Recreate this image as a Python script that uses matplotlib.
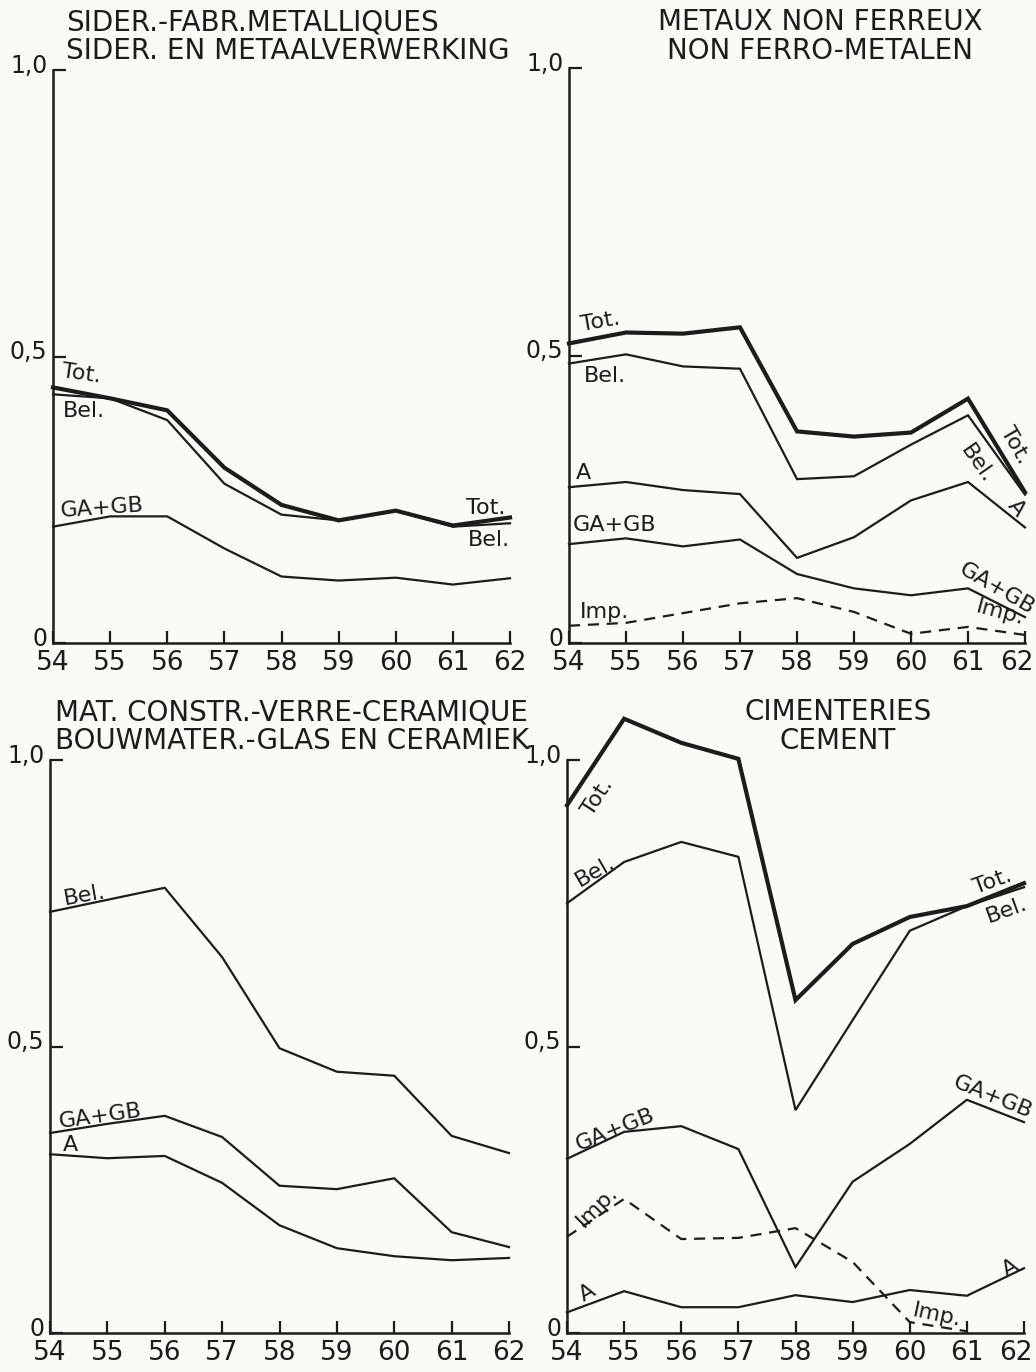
import numpy as np
import matplotlib
matplotlib.use("Agg")
import matplotlib.pyplot as plt
from matplotlib.transforms import ScaledTranslation

# years on the x axis (1954 - 1962)
years = [54, 55, 56, 57, 58, 59, 60, 61, 62]
year_labels = ["54", "55", "56", "57", "58", "59", "60", "61", "62"]
y_ticks = [0, 0.5, 1.0]
y_tick_labels = ["0", "0,5", "1,0"]

# Sider. - fabr. metalliques
sider_tot = [0.446, 0.427, 0.406, 0.306, 0.241, 0.214, 0.231, 0.205, 0.219]
sider_bel = [0.434, 0.427, 0.389, 0.278, 0.224, 0.214, 0.231, 0.203, 0.209]
sider_ga_gb = [0.203, 0.221, 0.221, 0.165, 0.116, 0.109, 0.114, 0.102, 0.113]

# Metaux non ferreux
nonfer_tot = [0.521, 0.540, 0.538, 0.549, 0.368, 0.359, 0.366, 0.425, 0.262]
nonfer_bel = [0.486, 0.502, 0.481, 0.477, 0.285, 0.290, 0.345, 0.396, 0.258]
nonfer_a = [0.271, 0.280, 0.266, 0.259, 0.148, 0.184, 0.248, 0.280, 0.201]
nonfer_ga_gb = [0.172, 0.182, 0.168, 0.180, 0.120, 0.095, 0.083, 0.095, 0.045]
nonfer_imp = [0.030, 0.035, 0.052, 0.069, 0.078, 0.054, 0.016, 0.028, 0.014]

# Mat. constr. - verre - ceramique
constr_bel = [0.735, 0.756, 0.777, 0.656, 0.497, 0.456, 0.449, 0.344, 0.314]
constr_ga_gb = [0.349, 0.365, 0.379, 0.342, 0.257, 0.251, 0.270, 0.176, 0.150]
constr_a = [0.312, 0.305, 0.309, 0.262, 0.188, 0.148, 0.134, 0.127, 0.131]

# Cimenteries
ciment_tot = [0.921, 1.072, 1.030, 1.002, 0.581, 0.679, 0.726, 0.745, 0.785]
ciment_bel = [0.750, 0.822, 0.857, 0.831, 0.389, 0.546, 0.702, 0.745, 0.778]
ciment_ga_gb = [0.304, 0.351, 0.361, 0.321, 0.115, 0.264, 0.330, 0.407, 0.368]
ciment_imp = [0.168, 0.234, 0.164, 0.166, 0.183, 0.124, 0.019, 0.003, np.nan]
ciment_a = [0.036, 0.073, 0.045, 0.045, 0.066, 0.054, 0.075, 0.065, 0.113]

INK = "#1c1c1c"
PAPER = "#fbfaf5"
W, H = 1036, 1372

plt.rcParams["font.family"] = ["DejaVu Sans"]

fig = plt.figure(figsize=(W / 100, H / 100), dpi=100, facecolor=PAPER)


def make_axes(x0, x1, y_zero, y_one, last_shift=0):
    # axes box given in pixels: x of 54 and 62, y of 0 and 1,0
    ax = fig.add_axes([x0 / W, (H - y_zero) / H, (x1 - x0) / W, (y_zero - y_one) / H])
    ax.set_facecolor("none")
    ax.set_xlim(54, 62)
    ax.set_ylim(0, 1)
    for side in ("top", "right"):
        ax.spines[side].set_visible(False)
    for side in ("left", "bottom"):
        ax.spines[side].set_linewidth(1.8)
        ax.spines[side].set_color(INK)
    ax.set_xticks(years)
    ax.set_xticklabels(year_labels, fontsize=19, color=INK)
    ax.set_yticks(y_ticks)
    ax.set_yticklabels(y_tick_labels, fontsize=17, color=INK)
    ax.tick_params(axis="x", direction="in", length=9, width=1.6, color=INK, pad=5)
    ax.tick_params(axis="y", direction="in", length=9, width=1.6, color=INK, pad=4)
    # number labels sit a little above their tick
    shift = ScaledTranslation(0, 5 / 72, fig.dpi_scale_trans)
    for lab in ax.get_yticklabels():
        lab.set_transform(lab.get_transform() + shift)
    if last_shift:
        lab = ax.get_xticklabels()[-1]
        lab.set_transform(lab.get_transform()
                          + ScaledTranslation(-last_shift / 100, 0, fig.dpi_scale_trans))
    return ax


def curve(ax, values, thick=False, dashed=False):
    ax.plot(years, values, color=INK, lw=3.0 if thick else 1.6,
            ls=(0, (5, 3.5)) if dashed else "-", clip_on=False,
            solid_joinstyle="miter", zorder=3)


def tag(ax, text, x, y, rot=0):
    ax.text(x, y, text, fontsize=16, color=INK, rotation=rot,
            rotation_mode="anchor", ha="center", va="center", zorder=4)


def title(x, y, lines, ha="center"):
    for i, line in enumerate(lines):
        fig.text(x / W, 1 - (y + i * 29) / H, line, fontsize=20, color=INK,
                 ha=ha, va="center")


# ---- top left ----
ax1 = make_axes(53, 510, 643, 70)
curve(ax1, sider_tot, thick=True)
curve(ax1, sider_bel)
curve(ax1, sider_ga_gb)
tag(ax1, "Tot.", 54.5, 0.47, -8)
tag(ax1, "Bel.", 54.55, 0.405)
tag(ax1, "GA+GB", 54.85, 0.236, 4)
tag(ax1, "Tot.", 61.57, 0.236)
tag(ax1, "Bel.", 61.63, 0.179)
title(66, 22, ["SIDER.-FABR.METALLIQUES", "SIDER. EN METAALVERWERKING"], ha="left")

# ---- top right ----
ax2 = make_axes(569, 1025, 643, 68, last_shift=8)
curve(ax2, nonfer_tot, thick=True)
curve(ax2, nonfer_bel)
curve(ax2, nonfer_a)
curve(ax2, nonfer_ga_gb)
curve(ax2, nonfer_imp, dashed=True)
tag(ax2, "Tot.", 54.55, 0.558, 10)
tag(ax2, "Bel.", 54.63, 0.465)
tag(ax2, "A", 54.25, 0.295)
tag(ax2, "GA+GB", 54.8, 0.205)
tag(ax2, "Imp.", 54.63, 0.054)
tag(ax2, "Tot.", 61.82, 0.344, -60)
tag(ax2, "Bel.", 61.16, 0.312, -55)
tag(ax2, "A", 61.84, 0.234, -50)
tag(ax2, "GA+GB", 61.5, 0.095, -30)
tag(ax2, "Imp.", 61.56, 0.052, -15)
title(820, 22, ["METAUX NON FERREUX", "NON FERRO-METALEN"])

# ---- bottom left ----
ax3 = make_axes(50, 509, 1333, 760)
curve(ax3, constr_bel)
curve(ax3, constr_ga_gb)
curve(ax3, constr_a)
tag(ax3, "Bel.", 54.61, 0.764, 10)
tag(ax3, "GA+GB", 54.87, 0.378, 8)
tag(ax3, "A", 54.35, 0.328)
title(55, 712, ["MAT. CONSTR.-VERRE-CERAMIQUE", "BOUWMATER.-GLAS EN CERAMIEK"], ha="left")

# ---- bottom right ----
ax4 = make_axes(567, 1024, 1333, 760, last_shift=8)
curve(ax4, ciment_tot, thick=True)
curve(ax4, ciment_bel)
curve(ax4, ciment_ga_gb)
curve(ax4, ciment_imp, dashed=True)
curve(ax4, ciment_a)
tag(ax4, "Tot.", 54.53, 0.935, 57)
tag(ax4, "Bel.", 54.49, 0.805, 30)
tag(ax4, "Tot.", 61.44, 0.787, 20)
tag(ax4, "Bel.", 61.7, 0.738, 20)
tag(ax4, "GA+GB", 54.84, 0.354, 22)
tag(ax4, "GA+GB", 61.46, 0.412, -22)
tag(ax4, "Imp.", 54.53, 0.22, 45)
tag(ax4, "Imp.", 60.48, 0.031, -12)
tag(ax4, "A", 54.35, 0.07, 30)
tag(ax4, "A", 61.76, 0.113, 30)
title(838, 712, ["CIMENTERIES", "CEMENT"])

fig.savefig("out.png", dpi=100, facecolor=PAPER)
